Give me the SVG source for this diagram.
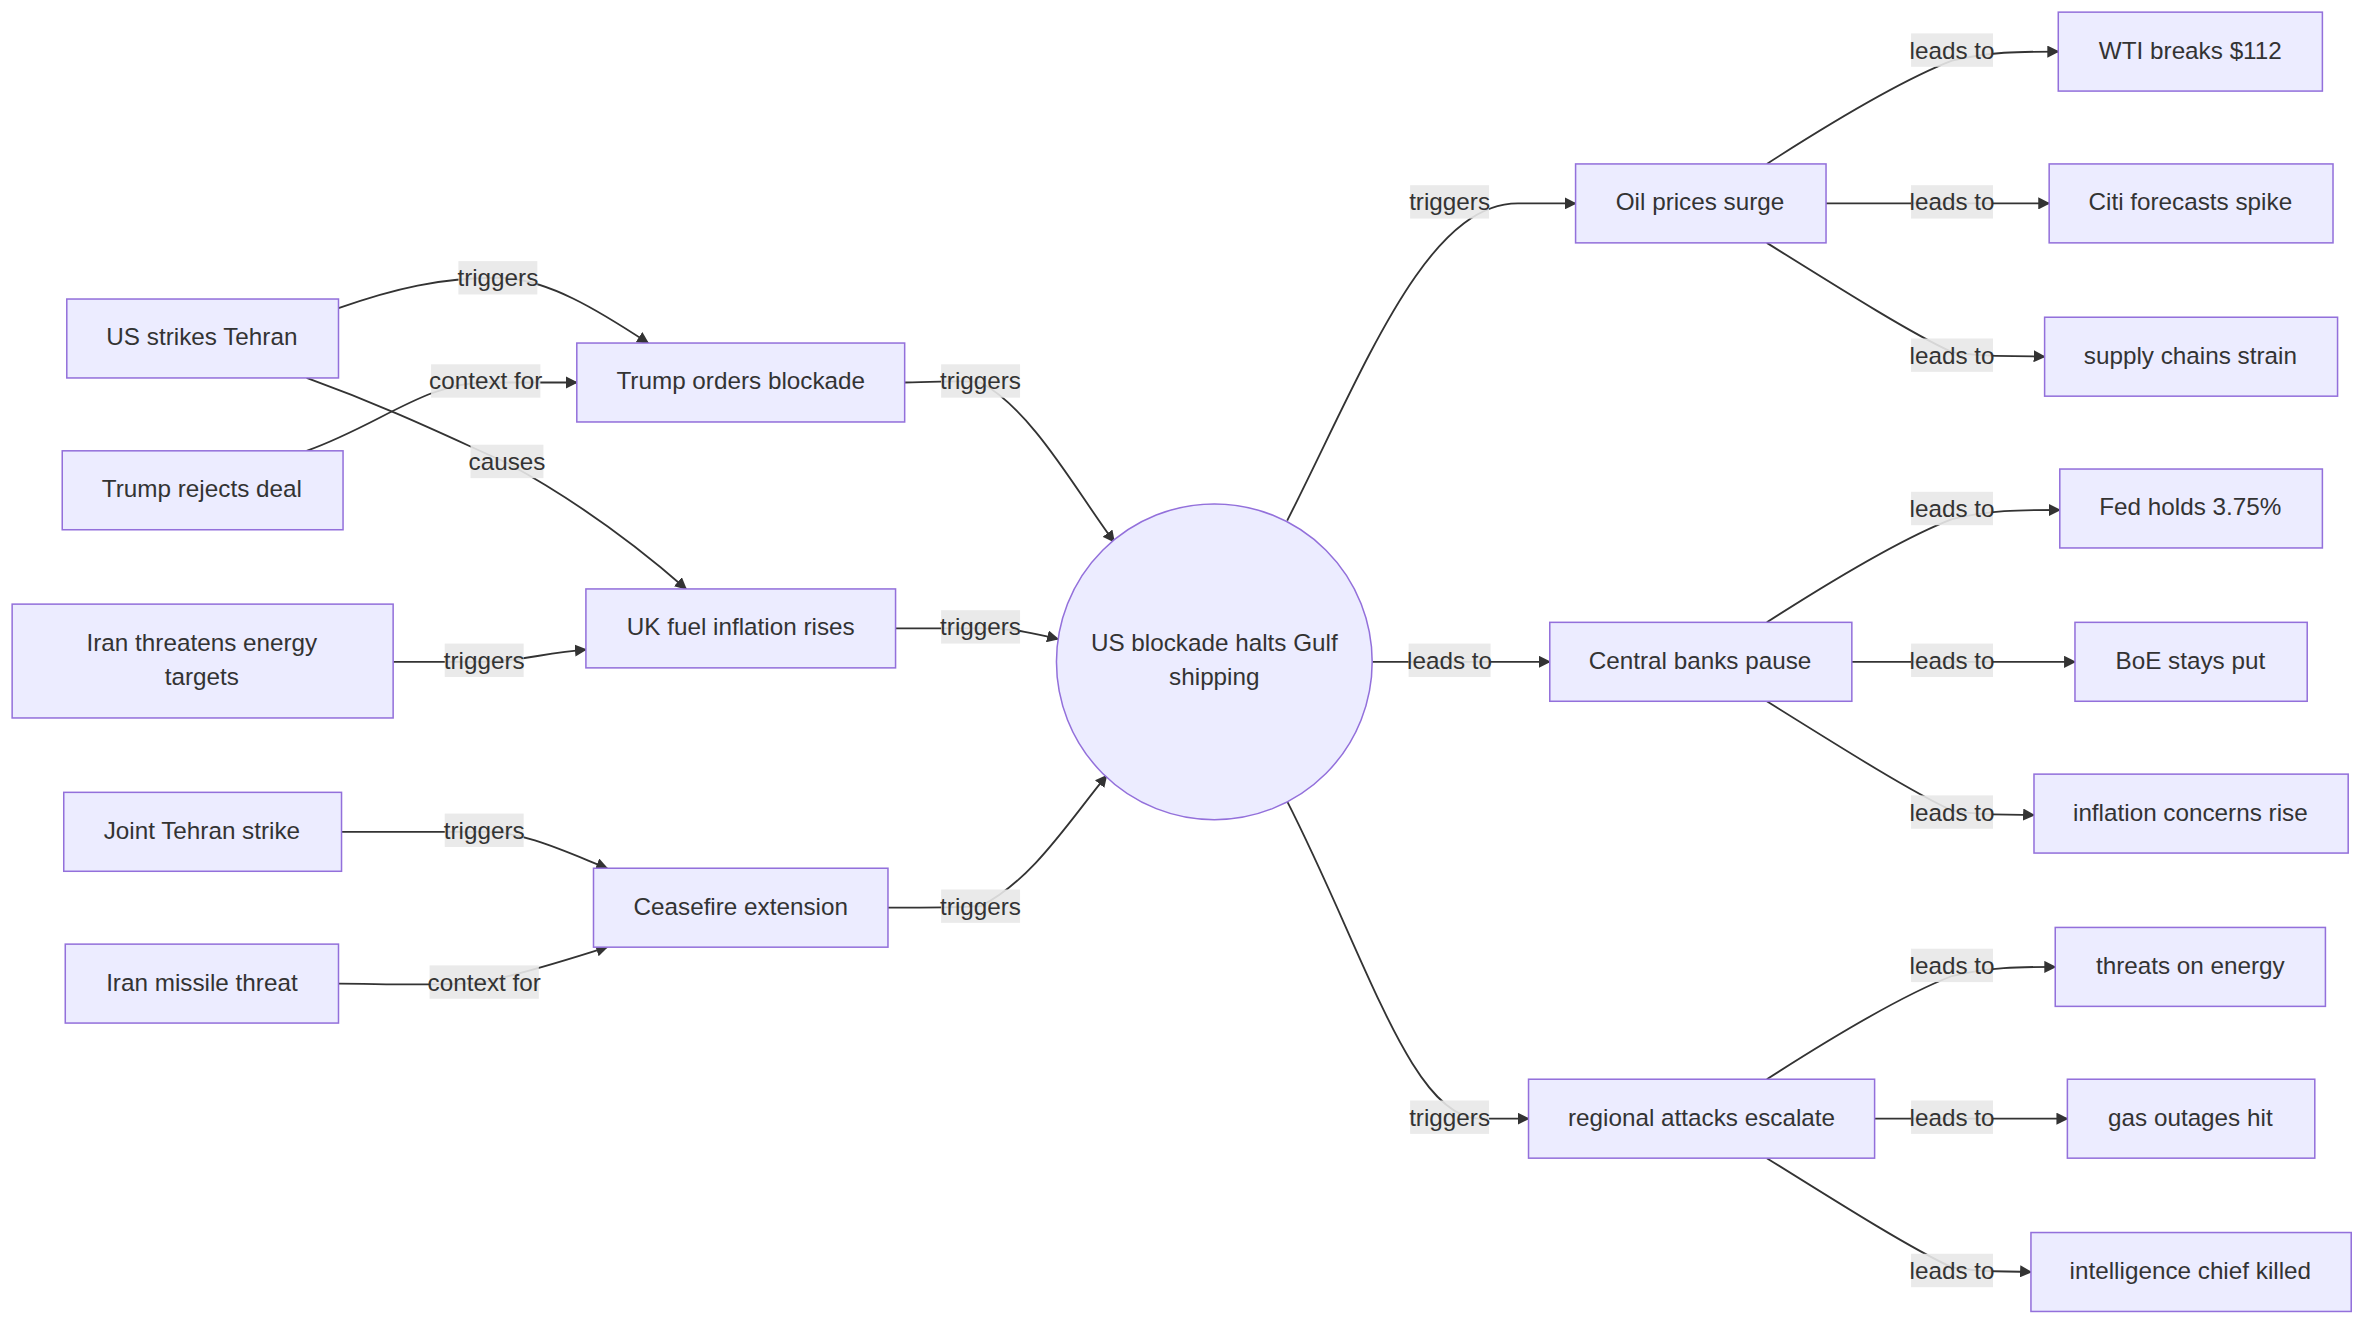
<svg xmlns="http://www.w3.org/2000/svg" width="2368" height="1328" viewBox="0 0 2368 1328">
<style>
.n rect,.n circle{fill:#ECECFF;stroke:#9370DB;stroke-width:1}
text{font-family:"Liberation Sans",Arial,sans-serif;font-size:16px;fill:#333;text-anchor:middle;dominant-baseline:central}
.e path{fill:none;stroke:#333;stroke-width:1.2}
.l rect{fill:#e8e8e8;opacity:0.9}
</style>
<defs><marker id="a" viewBox="0 0 10 10" refX="9" refY="5" markerWidth="8" markerHeight="8" orient="auto" markerUnits="userSpaceOnUse"><path d="M0,0L10,5L0,10z" fill="#333"/></marker></defs>
<rect width="2368" height="1328" fill="#fff"/>
<g transform="scale(1.5179)">
<g id="connectors" class="e">
<path marker-end="url(#a)" d="M223,203 C260,190 290,183 328,183 C360,183 395,205 427,226"/>
<path marker-end="url(#a)" d="M202,297 C250,280 280,252 320,252 L380,252"/>
<path marker-end="url(#a)" d="M202,249 C260,270 300,290 334,305 C380,330 420,360 452,388"/>
<path marker-end="url(#a)" d="M259,436 L319,436 C340,436 360,430 386,428"/>
<path marker-end="url(#a)" d="M225,548 L319,548 C345,548 370,560 400,572"/>
<path marker-end="url(#a)" d="M223,648 C250,648 290,650 319,647 C350,640 375,632 400,624"/>
<path marker-end="url(#a)" d="M596,252 C620,252 635,250 646,252 C680,270 710,325 734,357"/>
<path marker-end="url(#a)" d="M590,414 L646,414 C670,414 685,418 697,421"/>
<path marker-end="url(#a)" d="M585,598 C610,598 630,598 646,597 C680,580 705,540 729,511"/>
<path marker-end="url(#a)" d="M848,343 C900,240 940,134 1000,134 L1038,134"/>
<path marker-end="url(#a)" d="M904,436 L1021,436"/>
<path marker-end="url(#a)" d="M848,528 C900,630 930,737 975,737 L1007,737"/>
<path marker-end="url(#a)" d="M1164,108 C1220,72 1260,50 1286,40 C1310,34 1330,34 1356,34"/>
<path marker-end="url(#a)" d="M1203,134 L1350,134"/>
<path marker-end="url(#a)" d="M1164,160 C1220,195 1260,220 1286,232 C1310,236 1325,234 1347,235"/>
<path marker-end="url(#a)" d="M1164,410 C1220,374 1260,352 1286,342 C1310,336 1330,336 1357,336"/>
<path marker-end="url(#a)" d="M1220,436 L1367,436"/>
<path marker-end="url(#a)" d="M1164,462 C1220,497 1260,522 1286,534 C1310,538 1320,536 1340,537"/>
<path marker-end="url(#a)" d="M1164,711 C1220,675 1260,653 1286,643 C1310,637 1330,637 1354,637"/>
<path marker-end="url(#a)" d="M1235,737 L1362,737"/>
<path marker-end="url(#a)" d="M1164,763 C1220,798 1260,823 1286,835 C1310,839 1320,837 1338,838"/>
</g>
<g id="labels" class="l">
<rect x="302" y="172" width="52" height="22"/><text x="328" y="183">triggers</text>
<rect x="284" y="240" width="72" height="22"/><text x="320" y="251">context for</text>
<rect x="310" y="293" width="48" height="22"/><text x="334" y="304">causes</text>
<rect x="293" y="424" width="52" height="22"/><text x="319" y="435">triggers</text>
<rect x="293" y="536" width="52" height="22"/><text x="319" y="547">triggers</text>
<rect x="283" y="636" width="72" height="22"/><text x="319" y="647">context for</text>
<rect x="620" y="240" width="52" height="22"/><text x="646" y="251">triggers</text>
<rect x="620" y="402" width="52" height="22"/><text x="646" y="413">triggers</text>
<rect x="620" y="586" width="52" height="22"/><text x="646" y="597">triggers</text>
<rect x="929" y="122" width="52" height="22"/><text x="955" y="133">triggers</text>
<rect x="928" y="424" width="54" height="22"/><text x="955" y="435">leads to</text>
<rect x="929" y="725" width="52" height="22"/><text x="955" y="736">triggers</text>
<rect x="1259" y="22" width="54" height="22"/><text x="1286" y="33">leads to</text>
<rect x="1259" y="122" width="54" height="22"/><text x="1286" y="133">leads to</text>
<rect x="1259" y="223" width="54" height="22"/><text x="1286" y="234">leads to</text>
<rect x="1259" y="324" width="54" height="22"/><text x="1286" y="335">leads to</text>
<rect x="1259" y="424" width="54" height="22"/><text x="1286" y="435">leads to</text>
<rect x="1259" y="524" width="54" height="22"/><text x="1286" y="535">leads to</text>
<rect x="1259" y="625" width="54" height="22"/><text x="1286" y="636">leads to</text>
<rect x="1259" y="725" width="54" height="22"/><text x="1286" y="736">leads to</text>
<rect x="1259" y="826" width="54" height="22"/><text x="1286" y="837">leads to</text>
</g>
<g id="n1" class="n"><rect x="44" y="197" width="179" height="52"/><text x="133" y="222">US strikes Tehran</text></g>
<g id="n2" class="n"><rect x="41" y="297" width="185" height="52"/><text x="133" y="322">Trump rejects deal</text></g>
<g id="n3" class="n"><rect x="8" y="398" width="251" height="75"/><text x="133" y="423">Iran threatens energy</text><text x="133" y="446">targets</text></g>
<g id="n4" class="n"><rect x="42" y="522" width="183" height="52"/><text x="133" y="547">Joint Tehran strike</text></g>
<g id="n5" class="n"><rect x="43" y="622" width="180" height="52"/><text x="133" y="647">Iran missile threat</text></g>
<g id="n6" class="n"><rect x="380" y="226" width="216" height="52"/><text x="488" y="251">Trump orders blockade</text></g>
<g id="n7" class="n"><rect x="386" y="388" width="204" height="52"/><text x="488" y="413">UK fuel inflation rises</text></g>
<g id="n8" class="n"><rect x="391" y="572" width="194" height="52"/><text x="488" y="597">Ceasefire extension</text></g>
<g id="n9" class="n"><circle cx="800" cy="436" r="104"/><text x="800" y="423">US blockade halts Gulf</text><text x="800" y="446">shipping</text></g>
<g id="n10" class="n"><rect x="1038" y="108" width="165" height="52"/><text x="1120" y="133">Oil prices surge</text></g>
<g id="n11" class="n"><rect x="1021" y="410" width="199" height="52"/><text x="1120" y="435">Central banks pause</text></g>
<g id="n12" class="n"><rect x="1007" y="711" width="228" height="52"/><text x="1121" y="736">regional attacks escalate</text></g>
<g id="n13" class="n"><rect x="1356" y="8" width="174" height="52"/><text x="1443" y="33">WTI breaks $112</text></g>
<g id="n14" class="n"><rect x="1350" y="108" width="187" height="52"/><text x="1443" y="133">Citi forecasts spike</text></g>
<g id="n15" class="n"><rect x="1347" y="209" width="193" height="52"/><text x="1443" y="234">supply chains strain</text></g>
<g id="n16" class="n"><rect x="1357" y="309" width="173" height="52"/><text x="1443" y="334">Fed holds 3.75%</text></g>
<g id="n17" class="n"><rect x="1367" y="410" width="153" height="52"/><text x="1443" y="435">BoE stays put</text></g>
<g id="n18" class="n"><rect x="1340" y="510" width="207" height="52"/><text x="1443" y="535">inflation concerns rise</text></g>
<g id="n19" class="n"><rect x="1354" y="611" width="178" height="52"/><text x="1443" y="636">threats on energy</text></g>
<g id="n20" class="n"><rect x="1362" y="711" width="163" height="52"/><text x="1443" y="736">gas outages hit</text></g>
<g id="n21" class="n"><rect x="1338" y="812" width="211" height="52"/><text x="1443" y="837">intelligence chief killed</text></g>
</g>
</svg>
